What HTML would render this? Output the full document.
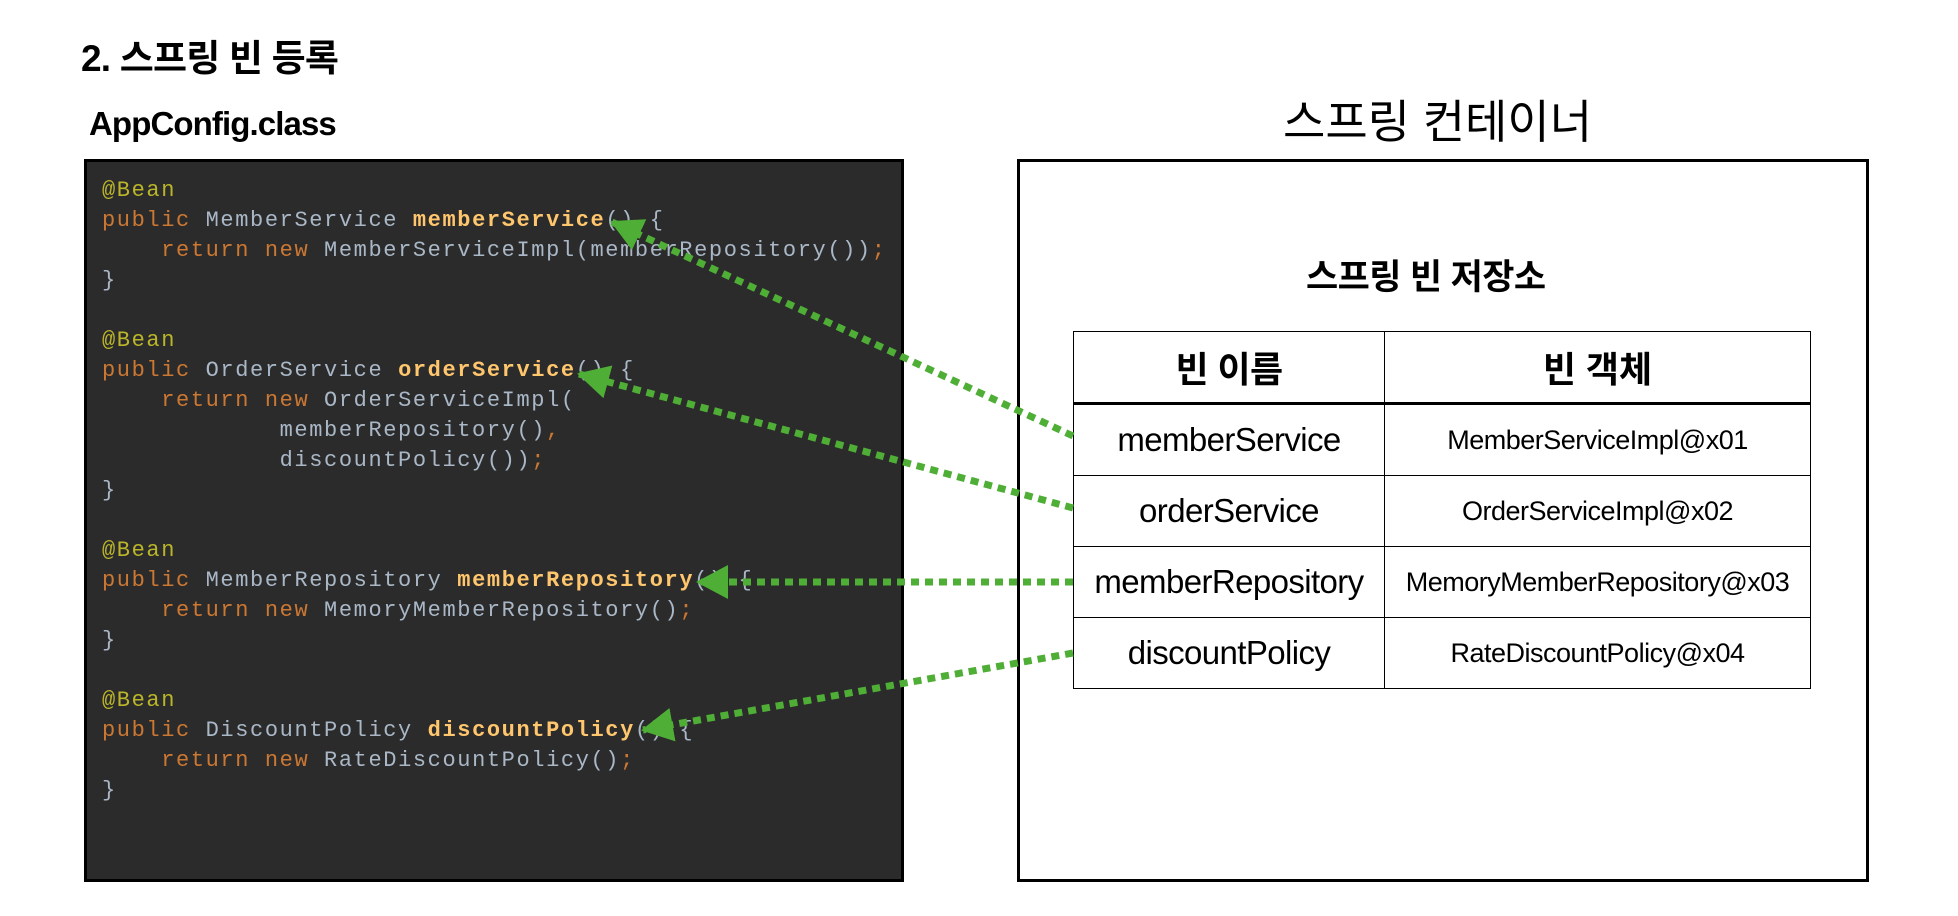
<!DOCTYPE html>
<html><head><meta charset="utf-8"><style>
body{margin:0;width:1958px;height:916px;background:#fff;position:relative;overflow:hidden;font-family:"Liberation Sans","Noto Sans CJK KR",sans-serif}
.a{position:absolute;white-space:nowrap}
#code{position:absolute;left:84px;top:159px;width:814px;height:717px;background:#2b2b2b;border:3px solid #000}
.ln{position:absolute;left:15px;font-family:"Liberation Mono",monospace;font-size:22px;letter-spacing:1.6px;white-space:pre;color:#a9b7c6;line-height:30px}
.k{color:#cc7832}.an{color:#bbb529}.m{color:#ffc66d;font-weight:bold}
#cont{position:absolute;left:1017px;top:159px;width:846px;height:717px;border:3px solid #000}
table{position:absolute;left:1073px;top:331px;border-collapse:collapse;width:738px}
td{border:1px solid #000;text-align:center;height:70px;padding:0}
tr.h td{font-weight:bold;font-size:36px;border-bottom:3px solid #000}
td.l{font-size:33px;width:310px;letter-spacing:-0.6px}td.r{font-size:27px;letter-spacing:-0.5px}
</style></head><body>
<div class="a" style="left:81px;top:28px;font-size:37px;font-weight:bold;letter-spacing:-0.8px">2. 스프링 빈 등록</div>
<div class="a" style="left:89px;top:105px;font-size:33px;font-weight:bold;letter-spacing:-0.9px">AppConfig.class</div>
<div class="a" style="left:1283px;top:86px;font-size:46px">스프링 컨테이너</div>
<div class="a" style="left:1306px;top:249px;font-size:35px;font-weight:bold;letter-spacing:-0.6px">스프링 빈 저장소</div>
<div id="code">
<div class="ln" style="top:14px"><span class="an">@Bean</span></div>
<div class="ln" style="top:44px"><span class="k">public</span> MemberService <span class="m">memberService</span>() {</div>
<div class="ln" style="top:74px">    <span class="k">return new</span> MemberServiceImpl(memberRepository())<span class="k">;</span></div>
<div class="ln" style="top:104px">}</div>
<div class="ln" style="top:164px"><span class="an">@Bean</span></div>
<div class="ln" style="top:194px"><span class="k">public</span> OrderService <span class="m">orderService</span>() {</div>
<div class="ln" style="top:224px">    <span class="k">return new</span> OrderServiceImpl(</div>
<div class="ln" style="top:254px">            memberRepository()<span class="k">,</span></div>
<div class="ln" style="top:284px">            discountPolicy())<span class="k">;</span></div>
<div class="ln" style="top:314px">}</div>
<div class="ln" style="top:374px"><span class="an">@Bean</span></div>
<div class="ln" style="top:404px"><span class="k">public</span> MemberRepository <span class="m">memberRepository</span>() {</div>
<div class="ln" style="top:434px">    <span class="k">return new</span> MemoryMemberRepository()<span class="k">;</span></div>
<div class="ln" style="top:464px">}</div>
<div class="ln" style="top:524px"><span class="an">@Bean</span></div>
<div class="ln" style="top:554px"><span class="k">public</span> DiscountPolicy <span class="m">discountPolicy</span>() {</div>
<div class="ln" style="top:584px">    <span class="k">return new</span> RateDiscountPolicy()<span class="k">;</span></div>
<div class="ln" style="top:614px">}</div>
</div>
<div id="cont"></div>
<table>
<tr class="h"><td class="l" style="font-size:36px">빈 이름</td><td>빈 객체</td></tr>
<tr><td class="l">memberService</td><td class="r">MemberServiceImpl@x01</td></tr>
<tr><td class="l">orderService</td><td class="r">OrderServiceImpl@x02</td></tr>
<tr><td class="l">memberRepository</td><td class="r">MemoryMemberRepository@x03</td></tr>
<tr><td class="l">discountPolicy</td><td class="r">RateDiscountPolicy@x04</td></tr>
</table>
<svg class="a" style="left:0;top:0" width="1958" height="916">
<defs><marker id="ar" markerWidth="34" markerHeight="34" refX="30" refY="17" orient="auto" markerUnits="userSpaceOnUse"><path d="M0,0 L32,17 L0,34 z" fill="#4eae35"/></marker></defs>
<g stroke="#4eae35" stroke-width="7" stroke-dasharray="8,6" fill="none" marker-end="url(#ar)">
<line x1="1073" y1="436" x2="612" y2="222"/>
<line x1="1073" y1="508" x2="579" y2="374"/>
<line x1="1073" y1="582" x2="698" y2="582"/>
<line x1="1073" y1="653" x2="643" y2="730"/>
</g></svg>
</body></html>
